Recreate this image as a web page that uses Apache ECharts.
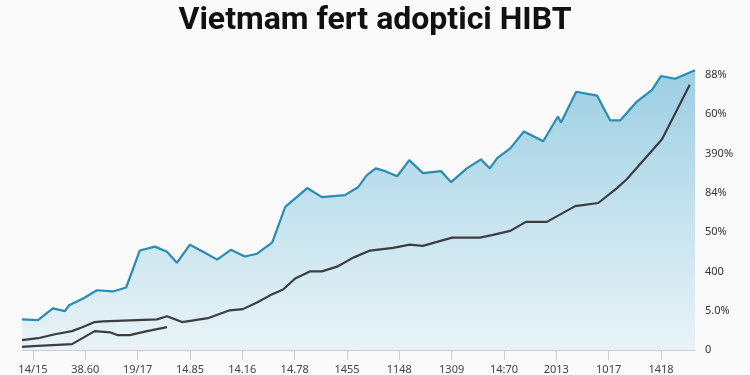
<!DOCTYPE html>
<html>
<head>
<meta charset="utf-8">
<script src="https://cdn.jsdelivr.net/npm/echarts@6/dist/echarts.min.js"></script>
<style>
html,body{margin:0;padding:0;background:#fafafa;}
#c{width:750px;height:375px;}
</style>
</head>
<body>
<div id="c"></div>
<script>
// Tick labels
var xTickLabels = ["14/15","38.60","19/17","14.85","14.16","14.78","1455","1148","1309","14:70","2013","1017","1418"];
var xTickValues = [0,10,20,30,40,50,60,70,80,90,100,110,120];
var yTickLabels = ["0","5.0%","400","50%","84%","390%","60%","88%"];
var yTickValues = [0,1,2,3,4,5,6,7];

// Series: [x, y]
var blueSeries = [
  [-2.1,0.78],[0.96,0.76],[3.8,1.06],[6.1,0.99],[6.9,1.14],[9.6,1.31],[12.2,1.52],[15.3,1.49],
  [17.8,1.59],[20.4,2.53],[23.3,2.63],[25.6,2.50],[27.5,2.22],[30.0,2.68],[32.5,2.50],[35.2,2.30],
  [37.8,2.55],[40.5,2.38],[42.8,2.45],[45.7,2.73],[48.2,3.64],[52.4,4.12],[55.2,3.89],[59.6,3.94],
  [62.1,4.14],[63.8,4.45],[65.5,4.62],[67.3,4.55],[69.6,4.42],[71.9,4.83],[74.5,4.50],[78.0,4.55],
  [79.9,4.27],[82.9,4.62],[85.6,4.85],[87.3,4.62],[88.7,4.88],[91.2,5.13],[93.8,5.56],[97.5,5.31],
  [100.3,5.94],[100.9,5.79],[103.8,6.57],[107.8,6.47],[110.3,5.84],[112.2,5.84],[115.4,6.32],
  [118.3,6.62],[120.0,6.97],[122.7,6.90],[126.5,7.12]
];
var darkSeriesA = [
  [-2.1,0.25],[0.96,0.30],[4.2,0.40],[7.45,0.48],[9.4,0.58],[11.8,0.71],[13.4,0.73],[23.7,0.78],
  [25.6,0.86],[28.5,0.71],[33.4,0.81],[37.6,1.01],[40.1,1.04],[42.8,1.21],[45.3,1.39],[47.8,1.54],
  [50.1,1.82],[52.9,2.00],[55.2,2.00],[58.1,2.12],[61.2,2.35],[64.4,2.53],[68.8,2.60],[72.0,2.68],
  [74.5,2.65],[77.2,2.75],[80.1,2.86],[85.4,2.86],[87.9,2.93],[91.2,3.03],[94.2,3.26],[98.2,3.26],
  [103.6,3.66],[108.0,3.74],[111.6,4.12],[113.5,4.35],[120.2,5.36],[125.5,6.75]
];
var darkSeriesB = [
  [-2.1,0.08],[0,0.10],[7.45,0.15],[11.8,0.48],[14.7,0.45],[16.1,0.38],[18.5,0.38],[21.8,0.48],[25.6,0.58]
];

var chart = echarts.init(document.getElementById('c'), null, {renderer:'canvas'});
chart.setOption({
  backgroundColor: '#fafafa',
  animation: false,
  title: {
    text: 'Vietmam fert adoptici HIBT',
    left: 'center',
    top: 0,
    textStyle: {fontFamily: 'Roboto', fontWeight: 'bold', fontSize: 32, color: '#111'}
  },
  grid: {left: 22, right: 55, top: 67, bottom: 23, containLabel: false},
  xAxis: {
    type: 'value',
    min: -2.1,
    max: 126.5,
    splitLine: {show: false},
    axisLine: {show: true, lineStyle: {color: '#cdcdcd', width: 1}},
    axisTick: {show: true, customValues: xTickValues, length: 10, lineStyle: {color: '#cdcdcd'}},
    axisLabel: {
      customValues: xTickValues,
      margin: 14,
      color: '#444', fontSize: 11, fontFamily: 'Noto Sans',
      formatter: function (v) { var i = xTickValues.indexOf(Math.round(v)); return i >= 0 ? xTickLabels[i] : ''; }
    }
  },
  yAxis: {
    type: 'value',
    position: 'right',
    min: 0,
    max: 7.2,
    splitLine: {show: false},
    axisLine: {show: false},
    axisTick: {show: false},
    axisLabel: {
      customValues: yTickValues,
      margin: 10,
      color: '#333', fontSize: 11, fontFamily: 'Noto Sans',
      formatter: function (v) { var i = yTickValues.indexOf(Math.round(v)); return i >= 0 ? yTickLabels[i] : ''; }
    }
  },
  series: [
    {
      type: 'line', data: blueSeries, showSymbol: false, smooth: false,
      lineStyle: {color: '#2a8cb4', width: 2.2},
      areaStyle: {
        color: new echarts.graphic.LinearGradient(0, 0, 0, 1, [
          {offset: 0, color: '#9bcee2'},
          {offset: 0.5, color: '#c4e2ee'},
          {offset: 1, color: '#e9f3f7'}
        ], false),
        opacity: 1
      },
      z: 2
    },
    {
      type: 'line', data: darkSeriesA, showSymbol: false,
      lineStyle: {color: '#3a3e42', width: 2.2}, z: 3
    },
    {
      type: 'line', data: darkSeriesB, showSymbol: false,
      lineStyle: {color: '#3a3e42', width: 2.2}, z: 3
    }
  ]
});
</script>
</body>
</html>
